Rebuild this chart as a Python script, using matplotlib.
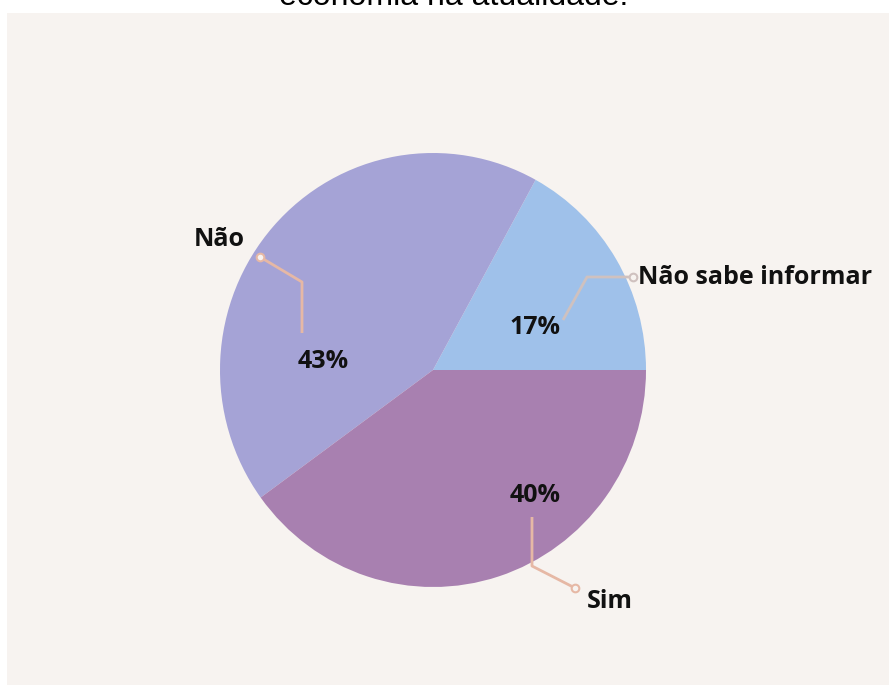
import matplotlib
matplotlib.use("Agg")
import matplotlib.pyplot as plt
from matplotlib.patches import Rectangle

# Survey answers
categories = ["Não sabe informar", "Não", "Sim"]
values = [17, 43, 40]
colors = ["#9fc1ea", "#a5a3d6", "#a880b0"]
title_text = "economia na atualidade."

W, H = 889, 685
DPI = 100
fig = plt.figure(figsize=(W / DPI, H / DPI), dpi=DPI, facecolor="white")

# light panel behind the chart
fig.patches.append(Rectangle((7 / W, 0), 1 - 7 / W, (H - 13) / H,
                             transform=fig.transFigure, facecolor="#f7f3f0",
                             edgecolor="none", zorder=-5))

# pie centre and radii in pixels
cx, cy, rx, ry = 433, 370, 213, 217
lim = 1.3
ax = fig.add_axes([(cx - lim * rx) / W, (H - cy - lim * ry) / H,
                   2 * lim * rx / W, 2 * lim * ry / H])
ax.set_zorder(2)
ax.patch.set_alpha(0)
ax.axis("off")

ax.pie(values, colors=colors, startangle=0, counterclock=True, radius=1,
       wedgeprops=dict(linewidth=0))
ax.set_xlim(-lim, lim)
ax.set_ylim(-lim, lim)
ax.set_aspect("auto")


def px(x, y):
    """pixel position -> pie axes data coords"""
    return (x - cx) / rx, (cy - y) / ry


bold = dict(family=["Open Sans", "DejaVu Sans"], fontweight="bold",
            fontsize=18, color="#111111")

pct_pos = [(535, 327), (323, 361), (535, 496)]
cat_pos = [((638, 277), "left"), ((219, 239), "center"), ((610, 602), "center")]
leaders = [
    ([(563, 320), (587, 277), (633, 277)], "#cfc1bf"),
    ([(302, 333), (302, 282), (260, 257)], "#e6b8a5"),
    ([(532, 517), (532, 566), (575, 588)], "#e6b8a5"),
]

for v, p in zip(values, pct_pos):
    ax.text(*px(*p), f"{v}%", ha="center", va="center", **bold)

for name, (p, ha) in zip(categories, cat_pos):
    ax.text(*px(*p), name, ha=ha, va="center", **bold)

for pts, c in leaders:
    xs, ys = zip(*[px(*q) for q in pts])
    ax.plot(xs, ys, color=c, lw=2, solid_capstyle="butt", zorder=3)
    ax.plot(xs[-1], ys[-1], marker="o", ms=5.5, mfc="#f7f3f0", mec=c,
            mew=1.5, zorder=4)

fig.text(454 / W, (H - 5) / H, title_text, ha="center", va="baseline",
         family=["Liberation Sans", "DejaVu Sans"], fontsize=23,
         color="#000000")

fig.savefig("out.png", dpi=DPI, facecolor="white")
